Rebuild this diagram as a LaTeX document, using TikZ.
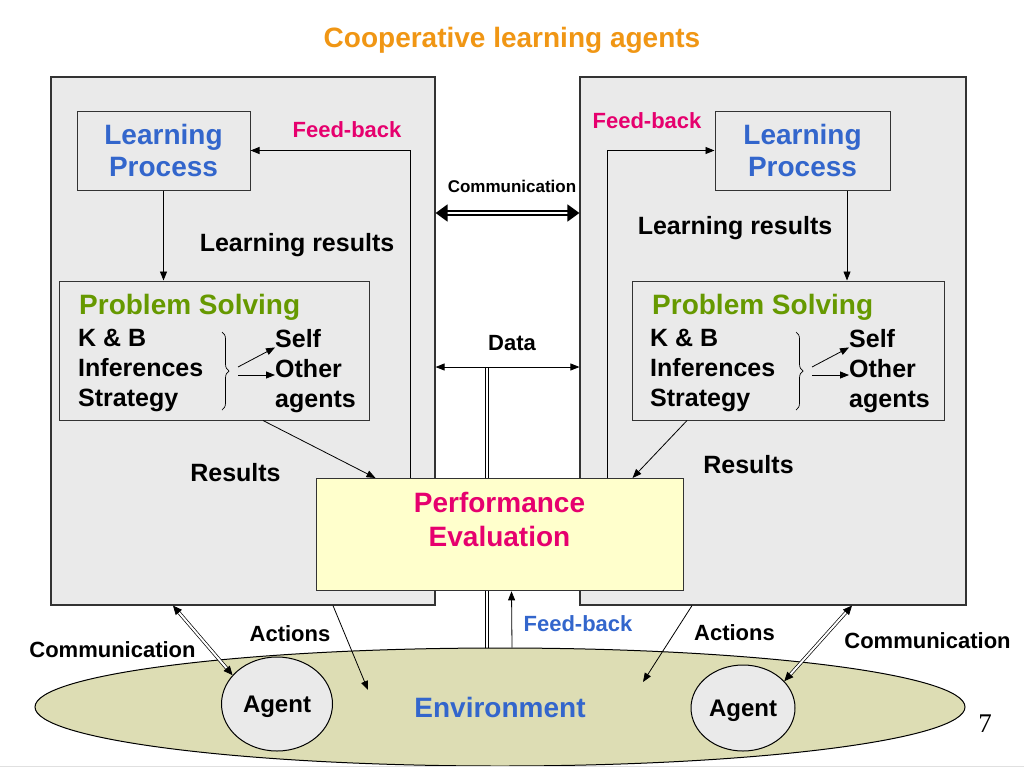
\documentclass[tikz,border=0pt]{standalone}
\usepackage{fontspec}
\setmainfont{Liberation Sans}
\newfontfamily\serifnum{Liberation Serif}
\usepackage{tikz}
\usetikzlibrary{positioning,arrows.meta,shapes.geometric,decorations.pathreplacing}
\definecolor{titleor}{RGB}{240,150,20}
\definecolor{lpblue}{RGB}{51,102,204}
\definecolor{psgreen}{RGB}{102,153,0}
\definecolor{fbpink}{RGB}{230,0,110}
\definecolor{boxgray}{RGB}{234,234,234}
\definecolor{peyellow}{RGB}{255,255,204}
\definecolor{envolive}{RGB}{221,221,180}
\newcommand{\fsz}[2]{\fontsize{#1}{#2}\selectfont\bfseries}

\begin{document}
\begin{tikzpicture}[x=1pt,y=-1pt,every node/.style={font=\fsz{25}{30},inner sep=0pt},
  agentbox/.style={draw=black!80,line width=1.2pt,fill=boxgray,minimum width=384pt,minimum height=528pt},
  lpbox/.style={draw=black!80,line width=1pt,fill=boxgray,text=lpblue,font=\fsz{28}{32},align=center,minimum width=173pt,minimum height=79pt},
  psbox/.style={draw=black!80,line width=1pt,fill=boxgray,minimum height=139pt},
  pebox/.style={draw=black!80,line width=1pt,fill=peyellow,text=fbpink,font=\fsz{28}{34},align=center,minimum width=367pt,inner ysep=14pt,text depth=30pt},
  envell/.style={ellipse,draw=black,line width=1pt,fill=envolive,text=lpblue,font=\fsz{28}{32},minimum width=930pt,minimum height=118pt},
  agentell/.style={ellipse,draw=black,line width=1pt,fill=boxgray,font=\fsz{24}{28},text depth=0pt},
  lab/.style={font=\fsz{22}{26}},
  arr/.style={-{Triangle[length=9pt,width=7pt]},line width=0.8pt},
  comm/.style={{Triangle[length=12pt,width=17pt]}-{Triangle[length=12pt,width=17pt]},double,double distance=2pt,line width=1.8pt},
  dbl/.style={{Triangle[length=9pt,width=8pt]}-{Triangle[length=9pt,width=8pt]},double,double distance=2pt,line width=0.7pt},
  dline/.style={double,double distance=2.5pt,line width=0.7pt}]
\useasboundingbox (0,0) rectangle (1024,768);
\node[font=\fsz{28}{32},text=titleor] (title) at (512,40) {Cooperative learning agents};
% the two agents
\node[agentbox] (lbox) at (243,341) {};
\node[agentbox,minimum width=386pt] (rbox) at (773,341) {};
\node[lpbox] (lpL) at (163.5,150.5) {Learning\\Process};
\node[lpbox,minimum width=175pt] (lpR) at (802.5,150.5) {Learning\\Process};
\node[psbox,minimum width=310pt] (psL) at (214,350.5) {};
\node[psbox,minimum width=312pt] (psR) at (788,350.5) {};
% problem solving, left
\node[anchor=base west,font=\fsz{28}{32},text=psgreen] (ptL) at (79,314) {Problem Solving};
\node[anchor=west,align=left] (kbL) at (78,370.5) {K \& B\\Inferences\\Strategy};
\node[anchor=base west] (selfL) at (275,347) {Self};
\node[anchor=base west] (othL) at (275,377) {Other};
\node[anchor=base west] (agtL) at (275,407) {agents};
\draw[decorate,decoration={brace,amplitude=7pt},line width=0.7pt] (222,332) -- (222,410);
\coordinate (brL) at (238,371);
\draw[arr] ([yshift=4pt]brL) -- (selfL.south west);
\draw[arr] ([yshift=-4pt]brL) -- ([yshift=2pt]othL.base west);
% problem solving, right
\node[anchor=base west,font=\fsz{28}{32},text=psgreen] (ptR) at (652,314) {Problem Solving};
\node[anchor=west,align=left] (kbR) at (650,370.5) {K \& B\\Inferences\\Strategy};
\node[anchor=base west] (selfR) at (849,347) {Self};
\node[anchor=base west] (othR) at (849,377) {Other};
\node[anchor=base west] (agtR) at (849,407) {agents};
\draw[decorate,decoration={brace,amplitude=7pt},line width=0.7pt] (796,332) -- (796,410);
\coordinate (brR) at (812,371);
\draw[arr] ([yshift=4pt]brR) -- (selfR.south west);
\draw[arr] ([yshift=-4pt]brR) -- ([yshift=2pt]othR.base west);
\draw[arr] (lpL.south) -- (lpL.south |- psL.north);
\draw[arr] ([xshift=44.5pt]lpR.south) -- ([xshift=44.5pt]lpR.south |- psR.north);
\node (lrL) at (297,245) {Learning results};
\node (lrR) at (735,228) {Learning results};
% between the agents
\node[font=\fsz{17}{20}] (cmlab) at (512,186) {Communication};
\draw[comm] ([yshift=128pt]lbox.east) -- ([yshift=128pt]rbox.west);
\node[lab] (datlab) at (512,343) {Data};
\coordinate (dj) at (487,367);
\draw[dline] (dj) -- (487,650);
\draw[arr,{Triangle[length=9pt,width=7pt]}-{Triangle[length=9pt,width=7pt]}] ([yshift=-26pt]lbox.east) -- ([yshift=-26pt]rbox.west);
% evaluation and environment
\node[pebox,anchor=north] (pe) at (499.5,478) {Performance\\Evaluation};
\draw[arr] ([xshift=-89.5pt]pe.north) |- (lpL.east);
\draw[arr] ([xshift=107.5pt]pe.north) |- (lpR.west);
\node[lab,text=fbpink] (fbL) at (347,130) {Feed-back};
\node[lab,text=fbpink] (fbR) at (647,121) {Feed-back};
\draw[arr] ([xshift=49pt]psL.south) -- ([xshift=-124pt]pe.north);
\draw[arr] ([xshift=-101pt]psR.south) -- ([xshift=133pt]pe.north);
\node (resL) at (235.5,473) {Results};
\node (resR) at (748.5,465) {Results};
\node[envell] (env) at (500,707) {Environment};
\node[agentell,minimum width=111pt,minimum height=94pt] (aL) at (277,704) {Agent};
\node[agentell,minimum width=104pt,minimum height=86pt] (aR) at (743,708) {Agent};
\draw[arr] ([xshift=12pt]env.north) -- ([xshift=12pt]pe.south);
\node[lab,text=lpblue] (fbB) at (578,624) {Feed-back};
\coordinate (actL) at (368,690);
\coordinate (actR) at (643,682);
\draw[arr] ([xshift=90pt]lbox.south) -- (actL);
\draw[arr] ([xshift=-81pt]rbox.south) -- (actR);
\node[lab] (acL) at (290,634) {Actions};
\node[lab] (acR) at (734.5,633) {Actions};
\draw[dbl] ([xshift=-70pt]lbox.south) -- (aL.147);
\draw[dbl] ([xshift=79pt]rbox.south) -- (aR.33);
\node[lab] (cmL) at (112.5,650) {Communication};
\node[lab] (cmR) at (927.5,641) {Communication};
\node[font=\serifnum\fontsize{27}{30}\selectfont] (pg) at (985,724) {7};
\draw[black!12] (0,766) -- (1024,766);
\end{tikzpicture}
\end{document}
